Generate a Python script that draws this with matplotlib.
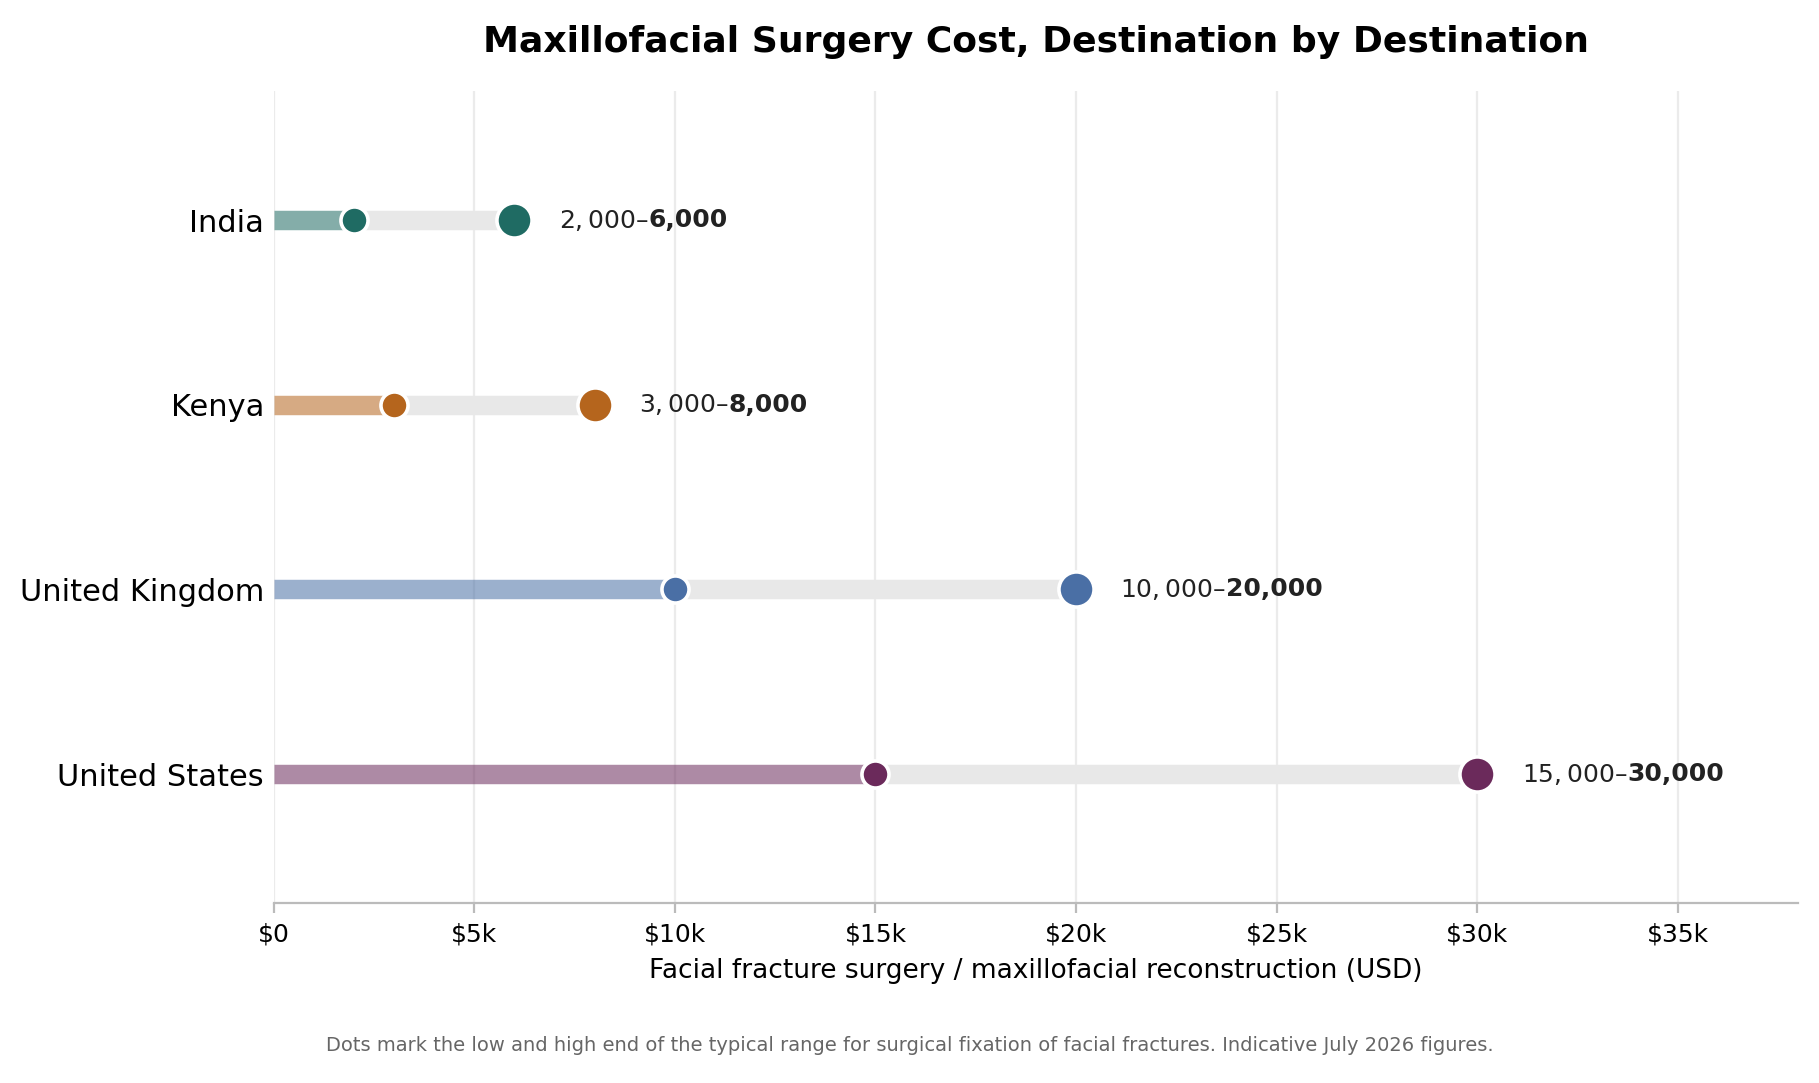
import matplotlib
matplotlib.use("Agg")
import matplotlib.pyplot as plt

countries = ["United States", "United Kingdom", "Kenya", "India"]
low = [15000, 10000, 3000, 2000]
high = [30000, 20000, 8000, 6000]
colors = ["#6b2a5b", "#4a6fa5", "#b5651d", "#1f6b63"]
xticks = [0, 5000, 10000, 15000, 20000, 25000, 30000, 35000]
xticklabels = ["$0", "$5k", "$10k", "$15k", "$20k", "$25k", "$30k", "$35k"]

fig = plt.figure(figsize=(9.095, 5.415), dpi=200)
ax = fig.add_axes([0.1505, 0.166, 0.838, 0.75])

for i, (c, lo, hi, col) in enumerate(zip(countries, low, high, colors)):
    ax.plot([0, lo], [i, i], color=col, alpha=0.55, lw=7, solid_capstyle="butt", zorder=2)
    ax.plot([lo, hi], [i, i], color="#e8e8e8", lw=7, solid_capstyle="butt", zorder=1)
    ax.scatter([lo], [i], s=95, color=col, edgecolor="white", linewidth=1.3, zorder=3)
    ax.scatter([hi], [i], s=160, color=col, edgecolor="white", linewidth=1.3, zorder=3)
    t = ax.annotate(f"${lo:,}–$", xy=(hi, i), xytext=(16, 0), textcoords="offset points",
                    va="center", ha="left", fontsize=9, color="#222222")
    ax.annotate(f"{hi:,}", xy=(1, 0.5), xycoords=t, xytext=(0, 0), textcoords="offset points",
                va="center", ha="left", fontsize=9, fontweight="bold", color="#222222")

ax.set_yticks(range(len(countries)))
ax.set_yticklabels(countries, fontsize=11)
ax.set_xticks(xticks)
ax.set_xticklabels(xticklabels, fontsize=9)
ax.set_xlim(0, 38000)
ax.set_ylim(-0.7, 3.7)
ax.grid(axis="x", color="#ebebeb", lw=0.8, zorder=0)
ax.set_axisbelow(True)
for s in ["top", "right", "left"]:
    ax.spines[s].set_visible(False)
ax.spines["bottom"].set_color("#bbbbbb")
ax.tick_params(axis="y", length=0)
ax.tick_params(axis="x", color="#bbbbbb")
ax.set_xlabel("Facial fracture surgery / maxillofacial reconstruction (USD)", fontsize=9.5)
ax.set_title("Maxillofacial Surgery Cost, Destination by Destination", fontsize=13,
             fontweight="bold", pad=14)
fig.text(0.5, 0.03, "Dots mark the low and high end of the typical range for surgical fixation of facial fractures. Indicative July 2026 figures.",
         ha="center", fontsize=7, color="#666666")
fig.savefig("out.png", dpi=200)
